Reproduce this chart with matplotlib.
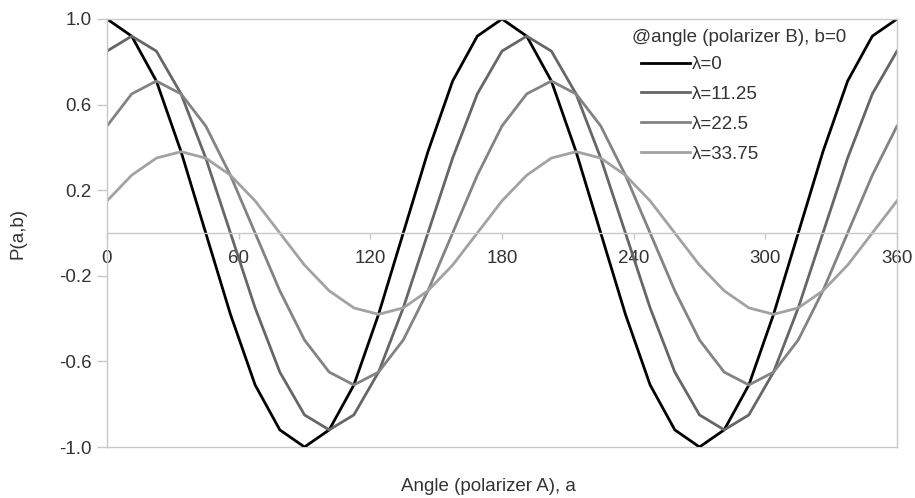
import matplotlib.pyplot as plt

plt.rcParams['font.family'] = ['Liberation Sans', 'DejaVu Sans']

# Winkel Polarisator A (Grad), Schritte von 11.25
winkel = [0, 11.25, 22.5, 33.75, 45, 56.25, 67.5, 78.75, 90, 101.25, 112.5,
          123.75, 135, 146.25, 157.5, 168.75, 180, 191.25, 202.5, 213.75, 225,
          236.25, 247.5, 258.75, 270, 281.25, 292.5, 303.75, 315, 326.25,
          337.5, 348.75, 360]

p_lambda_0 = [1.0, 0.92, 0.71, 0.38, 0.0, -0.38, -0.71, -0.92, -1.0, -0.92, -0.71,
              -0.38, 0.0, 0.38, 0.71, 0.92, 1.0, 0.92, 0.71, 0.38, 0.0,
              -0.38, -0.71, -0.92, -1.0, -0.92, -0.71, -0.38, 0.0, 0.38,
              0.71, 0.92, 1.0]
p_lambda_1125 = [0.85, 0.92, 0.85, 0.65, 0.35, 0.0, -0.35, -0.65, -0.85, -0.92, -0.85,
                 -0.65, -0.35, 0.0, 0.35, 0.65, 0.85, 0.92, 0.85, 0.65, 0.35,
                 0.0, -0.35, -0.65, -0.85, -0.92, -0.85, -0.65, -0.35, 0.0,
                 0.35, 0.65, 0.85]
p_lambda_225 = [0.5, 0.65, 0.71, 0.65, 0.5, 0.27, 0.0, -0.27, -0.5, -0.65, -0.71,
                -0.65, -0.5, -0.27, 0.0, 0.27, 0.5, 0.65, 0.71, 0.65, 0.5,
                0.27, 0.0, -0.27, -0.5, -0.65, -0.71, -0.65, -0.5, -0.27,
                0.0, 0.27, 0.5]
p_lambda_3375 = [0.15, 0.27, 0.35, 0.38, 0.35, 0.27, 0.15, 0.0, -0.15, -0.27, -0.35,
                 -0.38, -0.35, -0.27, -0.15, 0.0, 0.15, 0.27, 0.35, 0.38, 0.35,
                 0.27, 0.15, 0.0, -0.15, -0.27, -0.35, -0.38, -0.35, -0.27,
                 -0.15, 0.0, 0.15]

reihen = [
    ("λ=0", p_lambda_0, "#000000"),
    ("λ=11.25", p_lambda_1125, "#666666"),
    ("λ=22.5", p_lambda_225, "#838383"),
    ("λ=33.75", p_lambda_3375, "#a2a2a2"),
]

x_ticks = [0, 60, 120, 180, 240, 300, 360]
y_ticks = [1.0, 0.6, 0.2, -0.2, -0.6, -1.0]

fs = 13.5
textfarbe = "#333333"

fig = plt.figure(figsize=(9.15, 4.98), dpi=100)
ax = fig.add_axes([107 / 915, 1 - 447 / 498, (897 - 107) / 915, (447 - 19) / 498])

for name, werte, farbe in reihen:
    ax.plot(winkel, werte, color=farbe, linewidth=2, label=name)

ax.set_xlim(0, 360)
ax.set_ylim(-1.0, 1.0)

rahmen = "#c8c8c8"
for s in ax.spines.values():
    s.set_color(rahmen)
    s.set_linewidth(1)
ax.spines['bottom'].set_position(('data', 0))

ax.set_yticks(y_ticks)
ax.set_yticklabels([f"{v:.1f}" for v in y_ticks])
ax.set_xticks(x_ticks)
ax.set_xticklabels([str(v) for v in x_ticks])
ax.tick_params(axis='both', colors=rahmen, labelcolor=textfarbe, labelsize=fs,
               width=1)
ax.tick_params(axis='y', length=7, pad=4)
ax.tick_params(axis='x', length=4, pad=8)
ax.axhline(-1.0, color=rahmen, linewidth=1, zorder=0, clip_on=False)

fig.text(18 / 915, 1 - 233 / 498, "P(a,b)", rotation=90, ha='center', va='center',
         fontsize=fs, color=textfarbe)
fig.text(488 / 915, 1 - 486 / 498, "Angle (polarizer A), a", ha='center',
         va='center', fontsize=fs, color=textfarbe)

# Legendentitel separat, Einträge etwas eingerückt
ax.text((632 - 107) / 790, (447 - 38) / 428, "@angle (polarizer B), b=0",
        transform=ax.transAxes, ha='left', va='center', fontsize=fs,
        color=textfarbe)
leg = ax.legend(loc='upper left',
                bbox_to_anchor=((641 - 107) / 790, (447 - 56) / 428),
                frameon=False, fontsize=fs, borderpad=0, borderaxespad=0,
                handlelength=2.6, handletextpad=0.12, labelspacing=0.68)
for t in leg.get_texts():
    t.set_color(textfarbe)

fig.savefig("out.png", dpi=100, facecolor="white")
